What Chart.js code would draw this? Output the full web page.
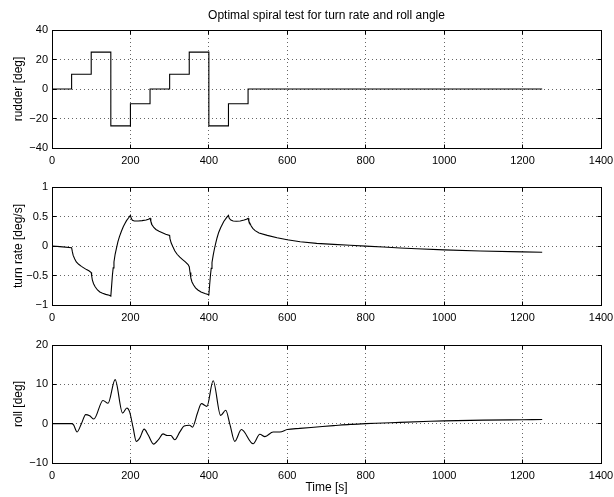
<!DOCTYPE html>
<html>
<head>
<meta charset="utf-8">
<script src="https://cdn.jsdelivr.net/npm/chart.js@4.4.0/dist/chart.umd.min.js"></script>
<style>
  html, body { margin: 0; padding: 0; background: #fff; }
  #wrap { position: relative; width: 614px; height: 497px; overflow: hidden; background: #fff; }
  canvas { position: absolute; left: 0; }
</style>
</head>
<body>
<div id="wrap">
  <canvas id="c1" width="614" height="170" style="top:0px"></canvas>
  <canvas id="c2" width="614" height="157" style="top:170px"></canvas>
  <canvas id="c3" width="614" height="170" style="top:327px"></canvas>
</div>
<script>
// ---------------- data ----------------
const chartTitle = 'Optimal spiral test for turn rate and roll angle';
const xLabel = 'Time [s]';
const yLabels = ['rudder [deg]', 'turn rate [deg/s]', 'roll [deg]'];

const timeRange = [0, 1400];
const timeStep = 200;

// rudder command (step signal, value holds until next time)
const rudderTime = [0, 50, 100, 150, 200, 250, 300, 350, 400, 450, 500, 1250];
const rudderDeg  = [0, 10, 25, -25, -10, 0, 10, 25, -25, -10, 0, 0];
const rudderRange = [-40, 40];
const rudderStep = 20;

// turn rate [deg/s]
const turnTime = [0, 20, 50, 52, 54, 58, 62, 68, 75, 82, 88, 94, 100,
  101, 103, 106, 110, 116, 122, 129, 137, 146, 150,
  152, 154, 156, 158, 161, 164, 168, 172, 177, 182, 186, 190, 195, 200,
  202, 205, 210, 220, 230, 240, 246, 250,
  252, 255, 259, 265, 273, 280, 290, 300,
  301, 304, 308, 313, 319, 326, 333, 340, 347, 350,
  352, 354, 357, 361, 366, 372, 380, 390, 400,
  402, 404, 406, 408, 411, 414, 418, 421, 425, 430, 438, 446, 450,
  452, 456, 462, 470, 480, 490, 496, 500,
  502, 505, 508, 512, 518, 528, 549, 574, 600, 633, 675, 718, 760, 800, 845, 888, 930, 1000, 1092, 1200, 1250];
const turnRate = [0, -0.01, -0.03, -0.1, -0.16, -0.22, -0.27, -0.31, -0.345, -0.375, -0.4, -0.42, -0.45,
  -0.5, -0.58, -0.64, -0.69, -0.745, -0.78, -0.8, -0.82, -0.835, -0.85,
  -0.68, -0.5, -0.37, -0.27, -0.14, -0.05, 0.07, 0.16, 0.25, 0.33, 0.38, 0.43, 0.475, 0.52,
  0.47, 0.435, 0.425, 0.425, 0.43, 0.44, 0.455, 0.47,
  0.42, 0.36, 0.32, 0.28, 0.25, 0.23, 0.2, 0.18,
  0.12, 0.05, -0.01, -0.08, -0.14, -0.19, -0.23, -0.27, -0.315, -0.35,
  -0.45, -0.54, -0.61, -0.66, -0.71, -0.745, -0.78, -0.805, -0.825,
  -0.66, -0.5, -0.38, -0.28, -0.16, -0.055, 0.06, 0.14, 0.23, 0.31, 0.415, 0.49, 0.52,
  0.47, 0.44, 0.425, 0.42, 0.425, 0.44, 0.455, 0.47,
  0.42, 0.38, 0.34, 0.3, 0.26, 0.22, 0.18, 0.14, 0.105, 0.072, 0.045, 0.027, 0.012, -0.002, -0.018, -0.033, -0.046, -0.066, -0.086, -0.1, -0.105];
const turnRange = [-1, 1];
const turnStep = 0.5;

// roll angle [deg]
const rollTime = [0, 50, 55, 64, 75, 86, 96, 107, 130, 143, 161, 180, 191, 198,
  207, 215, 224, 235, 245, 259, 272, 283, 294, 303, 313, 326, 337, 351, 358,
  371, 381, 395, 411, 430, 443, 454, 466, 483, 513, 530, 543, 564, 581,
  600, 632, 675, 718, 760, 800, 845, 888, 965, 1000, 1100, 1200, 1250];
const rollDeg = [0, 0, -0.3, -2.1, 0, 2.3, 2.0, 1.2, 5.9, 5.2, 11.2, 2.7, 4.0, 3.0,
  -1.1, -4.5, -3.6, -1.4, -2.8, -5.2, -4.0, -2.6, -3.0, -3.0, -4.1, -2.1, -0.6, -0.4, -0.9,
  2.7, 5.1, 4.4, 10.9, 2.1, 3.4, -0.3, -4.5, -1.5, -5.1, -2.7, -3.3, -2.1, -2.1,
  -1.5, -1.2, -0.85, -0.5, -0.17, 0, 0.17, 0.34, 0.6, 0.7, 0.9, 1.0, 1.05];
const rollRange = [-10, 20];
const rollStep = 10;

// ---------------- helpers ----------------
const FONT = 'Liberation Sans, Arial, Helvetica, sans-serif';
const pts = (xs, ys) => xs.map((x, i) => ({ x: x, y: ys[i] }));
const minusFmt = v => String(+v.toFixed(2)).replace('-', '\u2212');

const boxTicks = {
  id: 'boxTicks',
  afterDraw(chart) {
    const { ctx, chartArea: a, scales: { x, y } } = chart;
    const al = p => Math.round(p - 0.5) + 0.5;
    const L = al(a.left), R = al(a.right), T = al(a.top), B = al(a.bottom);
    const len = 4;
    ctx.save();
    ctx.strokeStyle = '#000';
    ctx.lineWidth = 1;
    ctx.setLineDash([]);
    ctx.beginPath();
    x.ticks.forEach(t => {
      const px = al(x.getPixelForValue(t.value));
      ctx.moveTo(px, B); ctx.lineTo(px, B - len);
      ctx.moveTo(px, T); ctx.lineTo(px, T + len);
    });
    y.ticks.forEach(t => {
      const py = al(y.getPixelForValue(t.value));
      ctx.moveTo(L, py); ctx.lineTo(L + len, py);
      ctx.moveTo(R, py); ctx.lineTo(R - len, py);
    });
    ctx.stroke();
    ctx.strokeRect(L, T, R - L, B - T);
    ctx.restore();
  }
};

function makeChart(id, data, opts) {
  const ds = Object.assign({
    data: data,
    borderColor: '#000',
    borderWidth: 1.1,
    pointRadius: 0,
    fill: false
  }, opts.dataset);
  return new Chart(document.getElementById(id), {
    type: 'line',
    data: { datasets: [ds] },
    plugins: [boxTicks],
    options: {
      responsive: false,
      animation: false,
      devicePixelRatio: 1,
      layout: { padding: { left: 7, right: 13, top: opts.padTop, bottom: 0 } },
      plugins: {
        legend: { display: false },
        tooltip: { enabled: false },
        title: opts.title ? {
          display: true,
          text: opts.title,
          fullSize: false,
          color: '#000',
          font: { family: FONT, size: 12, weight: 'normal', lineHeight: 1.2 },
          padding: { top: 8, bottom: 7.6 }
        } : { display: false }
      },
      scales: {
        x: {
          type: 'linear',
          min: timeRange[0], max: timeRange[1],
          ticks: { stepSize: timeStep, padding: 6, color: '#000', maxRotation: 0,
                   font: { family: FONT, size: 11 }, callback: v => minusFmt(v) },
          grid: { color: '#666', lineWidth: 1, drawTicks: false },
          border: { display: false, dash: [1, 3] },
          title: opts.xTitle ? { display: true, text: opts.xTitle, color: '#000',
                   font: { family: FONT, size: 12 }, padding: { top: 0, bottom: 2 } } : { display: false },
          afterFit: s => { s.height = opts.xHeight; s.paddingLeft = 0; s.paddingRight = 0; }
        },
        y: {
          type: 'linear',
          min: opts.yRange[0], max: opts.yRange[1],
          ticks: { stepSize: opts.yStep, padding: 4, color: '#000',
                   font: { family: FONT, size: 11 }, callback: v => minusFmt(v) },
          grid: { color: '#666', lineWidth: 1, drawTicks: false },
          border: { display: false, dash: [1, 3] },
          title: { display: true, text: opts.yTitle, color: '#000',
                   font: { family: FONT, size: 12 }, padding: { top: 4, bottom: 4 } },
          afterFit: s => { s.width = 45; s.paddingTop = 0; s.paddingBottom = 0; }
        }
      }
    }
  });
}

makeChart('c1', pts(rudderTime, rudderDeg), {
  title: chartTitle, padTop: 0, xHeight: 22,
  yRange: rudderRange, yStep: rudderStep, yTitle: yLabels[0],
  dataset: { stepped: 'before' }
});
makeChart('c2', pts(turnTime, turnRate), {
  padTop: 17, xHeight: 22,
  yRange: turnRange, yStep: turnStep, yTitle: yLabels[1],
  dataset: { tension: 0 }
});
makeChart('c3', pts(rollTime, rollDeg), {
  padTop: 18, xHeight: 34, xTitle: xLabel,
  yRange: rollRange, yStep: rollStep, yTitle: yLabels[2],
  dataset: { cubicInterpolationMode: 'monotone' }
});
</script>
</body>
</html>
